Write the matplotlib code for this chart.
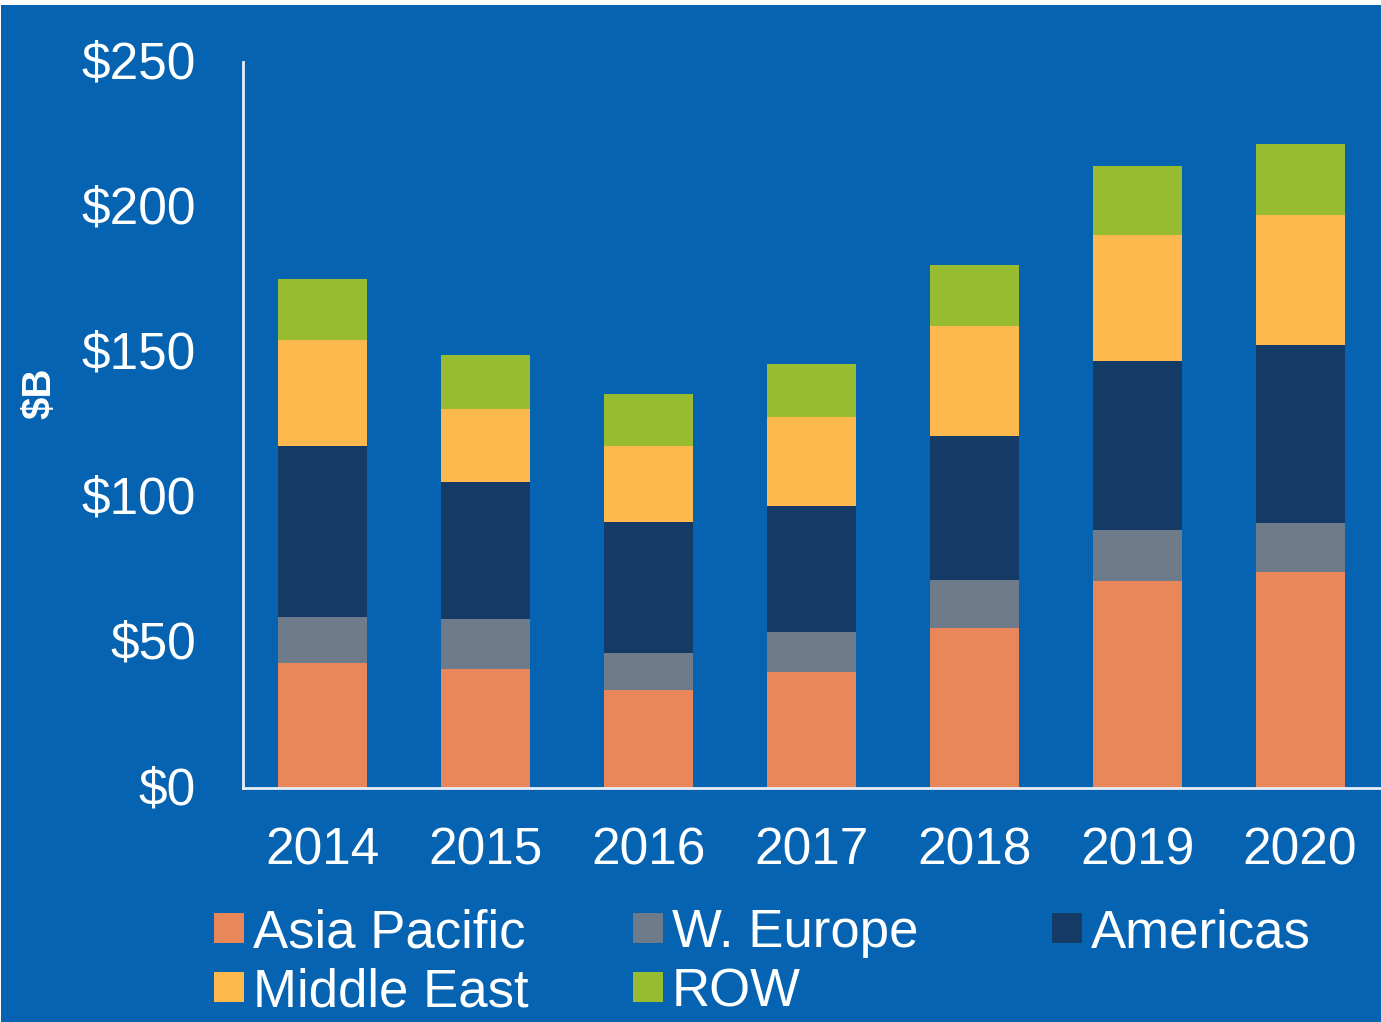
import matplotlib.pyplot as plt
from matplotlib.patches import Rectangle
import matplotlib.transforms as mtrans
import numpy as np

plt.rcParams['font.family'] = ['Liberation Sans', 'DejaVu Sans']

# data ($B)
years = ['2014', '2015', '2016', '2017', '2018', '2019', '2020']
asia_pacific = [43.0, 41.0, 33.7, 39.9, 55.1, 71.3, 74.4]
w_europe = [15.9, 17.2, 12.8, 13.8, 16.5, 17.5, 16.9]
americas = [58.9, 47.2, 45.1, 43.4, 49.6, 58.2, 61.2]
middle_east = [36.5, 25.1, 26.2, 30.7, 37.9, 43.4, 44.8]
row = [21.0, 18.6, 17.9, 18.2, 21.0, 23.8, 24.5]

series = ['Asia Pacific', 'W. Europe', 'Americas', 'Middle East', 'ROW']
values = [asia_pacific, w_europe, americas, middle_east, row]
colors = ['#E8875A', '#6E7B8B', '#143A66', '#FDB84E', '#98BC2F']
y_ticks = [0, 50, 100, 150, 200, 250]
y_labels = ['$0', '$50', '$100', '$150', '$200', '$250']

W, H = 1381, 1022
bg = '#0563B2'
fig = plt.figure(figsize=(W / 100, H / 100), dpi=100)
fig.patch.set_facecolor('white')
fig.patches.append(Rectangle((1 / W, 0), 1, 1 - 5 / H, transform=fig.transFigure,
                             facecolor=bg, edgecolor='none', zorder=-10))

ax = fig.add_axes([243 / W, (H - 788) / H, (W - 243) / W, (788 - 62) / H])
ax.set_facecolor('none')

x = np.arange(len(years))
bottom = np.zeros(len(years))
for name, vals, c in zip(series, values, colors):
    ax.bar(x, vals, width=0.546, bottom=bottom, color=c, edgecolor='none', label=name)
    bottom += np.array(vals)

ax.set_xlim(-0.488, 6.497)
ax.set_ylim(0, 250)
ax.set_yticks(y_ticks)
ax.set_yticklabels(y_labels)
ax.set_xticks(x)
ax.set_xticklabels(years)
ax.tick_params(axis='both', length=0, colors='white', labelsize=37)
ax.tick_params(axis='y', pad=34)
ax.tick_params(axis='x', pad=28)
# nudge y labels up a little
shift = mtrans.ScaledTranslation(0, 3 / 100, fig.dpi_scale_trans)
for lab in ax.get_yticklabels():
    lab.set_transform(lab.get_transform() + shift)
for s in ['top', 'right']:
    ax.spines[s].set_visible(False)
for s in ['left', 'bottom']:
    ax.spines[s].set_color('#E8EEF6')
    ax.spines[s].set_linewidth(2)

fig.text(40 / W, 1 - 393 / H, '$B', rotation=90, color='white', fontsize=29,
         fontweight='bold', ha='center', va='center')

# legend drawn by hand to keep the even column layout
leg_pos = [(214, 928), (633, 928), (1052, 928), (214, 987), (633, 987)]
for (px, py), name, c in zip(leg_pos, series, colors):
    fig.patches.append(Rectangle((px / W, 1 - (py + 15) / H), 30 / W, 30 / H,
                                 transform=fig.transFigure, facecolor=c, edgecolor='none'))
    fig.text((px + 39) / W, 1 - py / H, name, color='white', fontsize=38,
             ha='left', va='center_baseline')

fig.savefig('out.png', dpi=100, facecolor=fig.get_facecolor())
